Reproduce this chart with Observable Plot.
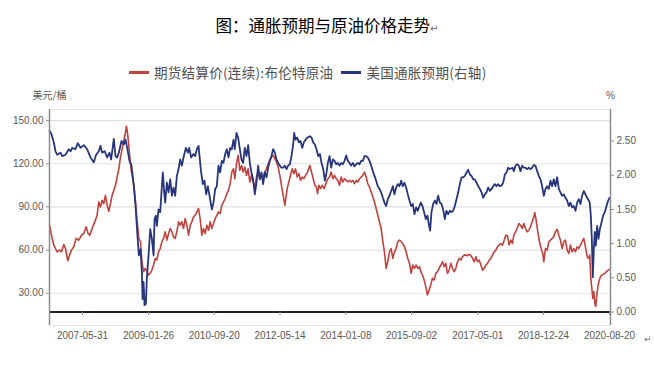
<!DOCTYPE html>
<html><head><meta charset="utf-8">
<script src="https://cdn.jsdelivr.net/npm/d3@7"></script>
<script src="https://cdn.jsdelivr.net/npm/@observablehq/plot@0.6"></script>
<style>
body{margin:0;background:#fff;}
#wrap{position:relative;width:654px;height:367px;overflow:hidden;font-family:"Noto Sans CJK SC",sans-serif;background:#fff;}
#title{position:absolute;left:0;width:654px;top:14px;text-align:center;font-size:16.5px;line-height:22px;color:#000;}
#title .ret{font-size:10px;color:#666;font-family:"DejaVu Sans",sans-serif;}
#legend{position:absolute;left:129px;top:62px;height:20px;display:flex;align-items:center;font-size:13.5px;color:#505050;white-space:nowrap;letter-spacing:0.3px;}
#legend .sw{display:inline-block;width:20px;height:3px;margin-right:5px;}
#legend .item{display:flex;align-items:center;margin-right:8px;}
#chart{position:absolute;left:0;top:82px;}
#ret2{position:absolute;left:644px;top:334px;font-size:9px;color:#777;font-family:"DejaVu Sans",sans-serif;}
</style></head>
<body><div id="wrap">
<div id="title">图：通胀预期与原油价格走势<span class="ret">↵</span></div>
<div id="legend"></div>
<div id="chart"></div>
<div id="ret2">↵</div>
</div>
<script>
// ---- data (dates as decimal years) ----
const seriesNames = ["期货结算价(连续):布伦特原油", "美国通胀预期(右轴)"];
const seriesColors = ["#c0423e", "#26357c"];

const brentDates = [2006.583,2006.608,2006.650,2006.692,2006.734,2006.775,2006.834,2006.884,2006.943,2006.984,2007.043,2007.085,2007.135,2007.193,2007.252,2007.319,2007.386,2007.444,2007.503,2007.553,2007.595,2007.653,2007.720,2007.779,2007.821,2007.863,2007.904,2007.946,2007.988,2008.030,2008.072,2008.114,2008.155,2008.197,2008.239,2008.281,2008.323,2008.364,2008.406,2008.448,2008.490,2008.515,2008.548,2008.590,2008.640,2008.699,2008.741,2008.783,2008.824,2008.866,
2008.900,2008.942,2008.983,2009.025,2009.067,2009.109,2009.151,2009.193,2009.234,2009.276,2009.318,2009.360,2009.402,2009.443,2009.485,2009.527,2009.569,2009.611,2009.653,2009.694,2009.736,2009.778,2009.820,2009.862,2009.903,2009.945,2009.987,2010.029,2010.071,2010.113,2010.154,2010.196,2010.238,2010.280,2010.322,2010.363,2010.405,2010.447,2010.489,2010.531,2010.573,2010.614,2010.656,2010.698,2010.740,2010.782,2010.823,2010.865,2010.907,2010.949,2010.991,2011.033,2011.074,2011.116,2011.158,2011.200,
2011.233,2011.275,2011.317,2011.359,2011.401,2011.442,2011.484,2011.526,2011.568,2011.610,2011.651,2011.693,2011.735,2011.777,2011.819,2011.861,2011.902,2011.944,2011.986,2012.028,2012.070,2012.111,2012.153,2012.195,2012.237,2012.279,2012.321,2012.362,2012.404,2012.446,2012.488,2012.513,2012.546,2012.588,2012.630,2012.672,2012.714,2012.755,2012.797,2012.839,2012.881,2012.923,2012.964,2013.006,2013.056,2013.115,2013.157,2013.199,2013.240,2013.282,2013.307,2013.341,2013.383,2013.425,2013.475,2013.533,
2013.567,2013.609,2013.650,2013.692,2013.734,2013.776,2013.818,2013.859,2013.901,2013.943,2013.985,2014.027,2014.069,2014.110,2014.152,2014.194,2014.236,2014.278,2014.319,2014.361,2014.403,2014.445,2014.487,2014.528,2014.570,2014.612,2014.654,2014.696,2014.738,2014.779,2014.821,2014.863,2014.905,2014.947,2014.988,2015.030,2015.072,2015.114,2015.156,2015.198,2015.239,2015.281,2015.323,2015.365,2015.407,2015.448,2015.490,2015.532,2015.574,2015.616,2015.658,2015.699,2015.741,2015.783,2015.825,2015.867,
2015.900,2015.942,2015.984,2016.026,2016.067,2016.109,2016.151,2016.193,2016.235,2016.277,2016.318,2016.360,2016.402,2016.444,2016.486,2016.527,2016.569,2016.611,2016.653,2016.695,2016.737,2016.778,2016.820,2016.862,2016.904,2016.946,2016.988,2017.029,2017.071,2017.113,2017.155,2017.197,2017.238,2017.280,2017.322,2017.364,2017.406,2017.447,2017.489,2017.531,2017.573,2017.615,2017.657,2017.698,2017.740,2017.782,2017.824,2017.866,2017.907,2017.949,2017.991,2018.033,2018.075,2018.116,2018.158,2018.200,
2018.234,2018.275,2018.317,2018.359,2018.401,2018.443,2018.484,2018.526,2018.568,2018.610,2018.652,2018.694,2018.735,2018.760,2018.794,2018.836,2018.878,2018.919,2018.961,2018.986,2019.028,2019.070,2019.112,2019.154,2019.195,2019.237,2019.279,2019.321,2019.363,2019.404,2019.446,2019.488,2019.530,2019.572,2019.614,2019.655,2019.697,2019.739,2019.781,2019.823,2019.865,2019.906,2019.948,2019.990,2020.032,2020.074,2020.115,2020.140,2020.166,2020.191,2020.216,2020.241,2020.266,2020.291,2020.316,2020.350,2020.391,2020.433,2020.475,2020.517,2020.559,2020.601,2020.634];

const brentPrice = [77.3,73.8,68.1,63.5,61.1,58.8,60.0,58.8,63.9,61.1,52.6,56.5,60.0,62.3,68.1,66.9,70.4,71.5,76.2,71.5,70.4,75.0,79.6,84.2,93.5,90.0,94.6,92.3,98.1,91.2,87.0,92.3,98.1,101.5,105.0,110.8,116.5,124.6,130.4,136.2,141.9,146.1,139.6,126.9,114.2,105.0,93.5,79.6,68.1,65.8,
52.0,45.0,47.3,45.0,42.7,43.9,46.1,49.6,54.2,53.1,58.8,61.1,65.8,68.1,72.7,66.9,71.5,75.0,72.7,69.2,68.1,72.7,79.6,77.3,79.6,75.0,81.9,77.3,70.4,77.3,79.6,83.1,84.2,86.5,88.8,81.9,70.4,75.0,71.5,77.3,73.8,79.6,75.0,78.5,81.9,84.2,86.5,85.4,91.2,93.5,95.8,99.2,101.5,106.1,114.2,116.5,
109.6,120.0,125.8,115.4,118.8,114.2,117.7,111.9,116.5,107.3,111.9,107.3,102.7,110.8,114.2,109.6,111.9,110.8,114.2,116.5,120.0,122.3,124.6,125.8,123.5,121.2,117.7,111.9,105.0,98.1,91.2,95.8,102.7,107.3,111.9,116.5,113.1,116.5,110.8,113.1,108.5,110.8,109.6,111.9,114.2,118.8,114.2,109.6,105.0,103.8,99.2,105.0,102.7,105.0,102.7,107.3,
109.6,110.8,114.2,109.6,111.9,109.6,108.5,105.0,110.8,107.3,109.6,108.5,107.3,108.5,107.3,108.5,106.1,108.5,107.3,109.6,110.8,111.9,114.2,110.8,106.1,103.8,100.4,96.9,93.5,88.8,84.2,79.6,75.0,65.8,58.8,47.3,52.0,58.8,61.1,54.2,58.8,61.1,65.8,66.9,65.8,64.6,62.3,58.8,54.2,50.8,43.9,49.6,47.3,49.6,47.3,48.5,
45.0,42.7,39.2,34.6,28.8,32.3,35.8,40.4,39.2,43.8,45.0,47.3,49.6,51.9,48.5,50.8,43.8,46.1,50.8,47.3,45.0,47.3,51.9,54.2,53.1,55.4,56.5,56.5,56.1,57.0,56.1,54.2,51.9,55.4,51.9,53.1,49.6,46.1,47.3,49.6,50.8,53.1,54.2,56.5,58.8,60.0,62.3,63.5,64.6,63.5,66.9,70.4,69.9,63.5,66.9,64.6,
70.4,72.7,75.0,78.5,77.3,75.0,78.5,75.0,72.7,73.8,76.2,79.6,83.1,86.1,80.8,72.7,65.8,61.1,57.7,51.9,61.1,60.0,65.8,66.9,68.1,69.2,72.7,74.5,70.4,66.9,61.1,65.8,66.9,60.0,57.7,63.5,58.8,61.1,58.8,62.3,61.1,63.5,65.8,68.1,62.3,55.4,54.2,56.5,40.4,33.5,26.5,31.2,23.1,20.8,28.8,35.8,40.4,42.7,43.1,43.8,45.0,46.1,46.6];

const beiDates = [2006.583,2006.633,2006.692,2006.734,2006.775,2006.859,2006.901,2006.984,2007.068,2007.110,2007.152,2007.235,2007.294,2007.361,2007.444,2007.528,2007.612,2007.695,2007.754,2007.821,2007.863,2007.904,2007.971,2008.030,2008.088,2008.130,2008.197,2008.239,2008.281,2008.323,2008.390,2008.448,2008.490,2008.532,2008.590,2008.640,2008.699,2008.741,2008.783,2008.824,2008.866,
2008.900,2008.917,2008.942,2008.967,2009.000,2009.025,2009.067,2009.109,2009.151,2009.193,2009.218,2009.251,2009.276,2009.318,2009.360,2009.402,2009.427,2009.460,2009.485,2009.527,2009.569,2009.611,2009.653,2009.694,2009.736,2009.778,2009.820,2009.862,2009.903,2009.945,2010.004,2010.054,2010.087,2010.138,2010.196,2010.238,2010.280,2010.322,2010.347,2010.388,2010.430,2010.472,2010.514,2010.556,2010.598,2010.656,2010.698,2010.740,2010.782,2010.823,2010.865,2010.907,2010.949,2010.991,2011.033,2011.074,2011.116,2011.158,2011.200,
2011.233,2011.275,2011.317,2011.359,2011.401,2011.442,2011.484,2011.526,2011.568,2011.610,2011.651,2011.693,2011.735,2011.777,2011.819,2011.861,2011.902,2011.944,2011.986,2012.028,2012.070,2012.111,2012.153,2012.195,2012.237,2012.279,2012.321,2012.362,2012.404,2012.446,2012.488,2012.530,2012.571,2012.613,2012.655,2012.697,2012.722,2012.755,2012.797,2012.839,2012.881,2012.923,2012.964,2013.006,2013.056,2013.115,2013.157,2013.199,2013.240,2013.282,2013.324,2013.366,2013.408,2013.450,2013.492,2013.533,
2013.567,2013.609,2013.650,2013.692,2013.734,2013.776,2013.818,2013.859,2013.901,2013.943,2013.985,2014.027,2014.069,2014.110,2014.152,2014.194,2014.236,2014.278,2014.319,2014.361,2014.403,2014.445,2014.487,2014.528,2014.570,2014.612,2014.654,2014.696,2014.738,2014.779,2014.821,2014.863,2014.905,2014.947,2014.988,2015.030,2015.072,2015.114,2015.156,2015.198,2015.239,2015.281,2015.323,2015.365,2015.407,2015.448,2015.490,2015.532,2015.574,2015.616,2015.658,2015.699,2015.741,2015.783,2015.825,2015.867,
2015.900,2015.942,2015.984,2016.026,2016.067,2016.109,2016.134,2016.168,2016.210,2016.251,2016.293,2016.335,2016.377,2016.419,2016.461,2016.502,2016.544,2016.586,2016.628,2016.670,2016.711,2016.753,2016.795,2016.837,2016.879,2016.921,2016.962,2017.004,2017.046,2017.088,2017.130,2017.171,2017.213,2017.255,2017.297,2017.339,2017.380,2017.422,2017.464,2017.506,2017.548,2017.590,2017.632,2017.673,2017.715,2017.757,2017.799,2017.840,2017.882,2017.924,2017.966,2018.008,2018.050,2018.091,2018.133,2018.200,
2018.234,2018.275,2018.317,2018.359,2018.401,2018.443,2018.484,2018.526,2018.568,2018.610,2018.652,2018.694,2018.735,2018.777,2018.819,2018.861,2018.903,2018.944,2018.986,2019.028,2019.070,2019.112,2019.154,2019.195,2019.237,2019.279,2019.321,2019.363,2019.404,2019.446,2019.488,2019.530,2019.572,2019.614,2019.655,2019.697,2019.739,2019.781,2019.823,2019.865,2019.906,2019.948,2019.990,2020.032,2020.074,2020.115,2020.140,2020.166,2020.191,2020.216,2020.241,2020.266,2020.291,2020.325,2020.358,2020.391,2020.433,2020.475,2020.517,2020.559,2020.601,2020.634];

const beiRate = [2.65,2.60,2.48,2.35,2.30,2.33,2.28,2.30,2.38,2.35,2.40,2.38,2.47,2.40,2.44,2.38,2.26,2.19,2.30,2.35,2.43,2.33,2.35,2.26,2.33,2.23,2.53,2.28,2.26,2.33,2.50,2.45,2.52,2.40,2.21,2.14,1.84,1.55,1.17,0.83,0.92,
0.58,0.19,0.44,0.10,0.12,0.49,0.83,1.21,1.07,0.83,1.36,1.41,1.26,1.50,1.46,1.84,2.04,1.75,1.60,1.89,1.75,1.94,1.70,1.82,1.70,1.99,2.09,2.23,2.14,2.26,2.40,2.33,2.40,2.26,2.31,2.28,2.38,2.43,2.28,2.04,1.87,1.92,1.72,1.84,1.70,1.50,1.60,1.80,1.84,2.14,2.04,2.21,2.18,2.31,2.38,2.26,2.40,2.38,2.52,
2.38,2.62,2.55,2.38,2.23,2.18,2.40,2.28,2.44,2.18,2.04,1.94,1.72,1.89,2.14,1.94,2.04,1.87,2.04,1.97,2.11,2.21,2.28,2.38,2.33,2.23,2.18,2.14,2.11,2.11,2.14,2.09,2.14,2.16,2.28,2.45,2.62,2.52,2.55,2.48,2.50,2.40,2.48,2.52,2.55,2.57,2.55,2.48,2.45,2.38,2.28,2.31,2.18,2.09,1.92,2.04,
2.18,2.28,2.11,2.23,2.21,2.16,2.18,2.14,2.18,2.16,2.21,2.29,2.21,2.18,2.14,2.18,2.13,2.16,2.18,2.16,2.21,2.21,2.28,2.28,2.26,2.21,2.14,2.06,1.99,1.92,1.84,1.80,1.75,1.67,1.60,1.55,1.65,1.70,1.77,1.84,1.72,1.82,1.87,1.84,1.92,1.84,1.89,1.82,1.72,1.63,1.55,1.58,1.43,1.53,1.48,1.55,
1.60,1.55,1.46,1.36,1.41,1.26,1.19,1.46,1.58,1.63,1.58,1.70,1.60,1.58,1.50,1.36,1.48,1.43,1.48,1.46,1.48,1.55,1.65,1.75,1.87,1.97,1.97,1.99,2.04,2.08,2.01,1.99,1.94,1.94,1.89,1.84,1.80,1.75,1.67,1.72,1.75,1.82,1.77,1.80,1.84,1.87,1.84,1.87,1.84,1.85,1.89,2.01,2.04,2.11,2.09,2.11,
2.06,2.14,2.16,2.14,2.06,2.14,2.11,2.11,2.09,2.11,2.09,2.11,2.15,2.14,2.06,1.99,1.94,1.84,1.70,1.80,1.84,1.80,1.92,1.84,1.94,1.84,1.97,1.80,1.75,1.70,1.72,1.67,1.63,1.55,1.60,1.53,1.55,1.48,1.60,1.65,1.58,1.70,1.77,1.72,1.67,1.63,1.60,1.41,1.07,0.51,0.92,1.17,0.97,1.26,1.07,1.21,1.31,1.41,1.46,1.55,1.63,1.67];

const leftTicks = [30, 60, 90, 120, 150];
const rightTicks = [0, 0.5, 1, 1.5, 2, 2.5];
const xTickLabels = ["2007-05-31","2009-01-26","2010-09-20","2012-05-14","2014-01-08","2015-09-02","2017-05-01","2018-12-24","2020-08-20"];
const leftUnit = "美元/桶";
const rightUnit = "%";

// ---- scales ----
const leftDomain = [7.6, 157.7];
const rightDomain = [-0.197, 2.961];
const toLeft = d3.scaleLinear().domain(rightDomain).range(leftDomain);
const toDate = v => { const y = Math.floor(v); const a = Date.UTC(y,0,1), b = Date.UTC(y+1,0,1); return new Date(a + (v - y) * (b - a)); };
const xDomain = [toDate(2006.583), toDate(2020.659)];
const xTicks = xTickLabels.map(s => new Date(s + "T00:00:00Z"));
const fmtRight = d => { const r = Math.round(toLeft.invert(d) * 100) / 100; return Math.abs(r).toFixed(2) === "0.00" ? "0.00" : r.toFixed(2); };

const brent = brentDates.map((d, i) => ({date: toDate(d), value: brentPrice[i]}));
const bei = beiDates.map((d, i) => ({date: toDate(d), value: toLeft(beiRate[i])}));

// ---- legend ----
const lg = document.getElementById("legend");
seriesNames.forEach((n, i) => {
  const it = document.createElement("span"); it.className = "item";
  const sw = document.createElement("span"); sw.className = "sw"; sw.style.background = seriesColors[i];
  const tx = document.createElement("span"); tx.textContent = n;
  it.appendChild(sw); it.appendChild(tx); lg.appendChild(it);
});

const cjk = "Noto Sans CJK SC, sans-serif";
const chart = Plot.plot({
  width: 654, height: 285,
  marginLeft: 49, marginRight: 44, marginTop: 27, marginBottom: 42,
  style: {fontFamily: "Liberation Sans, Arial, sans-serif", fontSize: "10px", color: "#595959", background: "#fff"},
  x: {type: "utc", domain: xDomain},
  y: {domain: leftDomain},
  marks: [
    Plot.ruleY(leftTicks, {stroke: "#e2e2e2", strokeWidth: 1.2}),
    Plot.ruleY([leftDomain[1], leftDomain[0]], {stroke: "#e2e2e2", strokeWidth: 1.2}),
    Plot.lineY(brent, {x: "date", y: "value", stroke: seriesColors[0], strokeWidth: 1.6}),
    Plot.lineY(bei, {x: "date", y: "value", stroke: seriesColors[1], strokeWidth: 1.8}),
    Plot.ruleY([toLeft(0)], {stroke: "#2a1c1c", strokeWidth: 2}),
    Plot.ruleX(xTicks, {y1: toLeft(0), y2: toLeft(-0.05), stroke: "#8c8c8c"}),
    Plot.ruleX([xDomain[0], xDomain[1]], {stroke: "#8c8c8c", strokeWidth: 1.5}),
    Plot.axisY(leftTicks, {anchor: "left", tickSize: 3, tickPadding: 3, tickFormat: d => d.toFixed(2), label: null, stroke: "#8c8c8c"}),
    Plot.axisY(rightTicks.map(r => toLeft(r)), {anchor: "right", tickSize: 3, tickPadding: 3, tickFormat: fmtRight, label: null, stroke: "#8c8c8c"}),
    Plot.axisX(xTicks, {anchor: "bottom", tickSize: 0, tickPadding: 6, tickFormat: d3.utcFormat("%Y-%m-%d"), label: null}),
    Plot.text([leftUnit], {text: d => d, frameAnchor: "top-left", dy: -18, textAnchor: "middle", fontFamily: cjk, fontSize: 10, fill: "#595959"}),
    Plot.text([rightUnit], {text: d => d, frameAnchor: "top-right", dy: -18, textAnchor: "middle", fontSize: 10, fill: "#595959"})
  ]
});
document.getElementById("chart").appendChild(chart);
</script>
</body></html>
